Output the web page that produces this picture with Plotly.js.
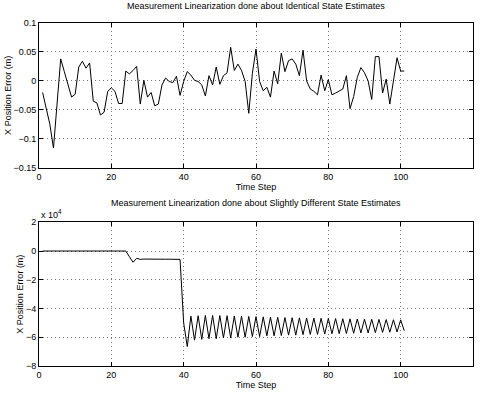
<!DOCTYPE html>
<html>
<head>
<meta charset="utf-8">
<script src="https://cdn.plot.ly/plotly-3.0.1.min.js"></script>
<style>html,body{margin:0;padding:0;background:#fff;}#chart{width:480px;height:398px;}</style>
</head>
<body>
<div id="chart"></div>
<script>
// Time steps
var timeSteps = [];
for (var i = 1; i <= 101; i++) timeSteps.push(i);

// Top panel: X position error (m), identical state estimates
var errIdentical = [
  -0.020, -0.045, -0.075, -0.116, -0.040, 0.038, 0.016, -0.006, -0.028, -0.023,
  0.024, 0.034, 0.022, 0.031, -0.035, -0.038, -0.059, -0.054, -0.018, -0.012,
  -0.018, -0.039, -0.039, 0.017, 0.012, 0.018, 0.025, -0.040, 0.001, -0.028,
  -0.020, -0.043, -0.040, -0.007, 0.005, -0.001, -0.003, 0.008, -0.025, -0.001,
  0.016, 0.010, 0.001, -0.001, -0.007, -0.026, 0.009, -0.007, 0.024, -0.006,
  0.009, 0.014, 0.058, 0.018, 0.029, 0.018, -0.001, -0.056, 0.013, 0.055,
  -0.001, -0.017, -0.011, -0.028, 0.017, -0.005, 0.048, 0.016, 0.035, 0.038,
  0.029, 0.009, 0.053, 0.000, -0.014, -0.018, -0.024, 0.010, -0.017, 0.002,
  -0.024, -0.021, -0.018, -0.014, 0.009, -0.048, -0.027, 0.006, 0.023, 0.014,
  0.000, -0.032, 0.042, 0.042, -0.021, 0.003, -0.040, -0.001, 0.040, 0.017,
  0.017
];

// Bottom panel: X position error (m), slightly different state estimates
var errDifferent = [
  0, 0, 0, 0, 0, 0, 0, 0, 0, 0,
  0, 0, 0, 0, 0, 0, 0, 0, 0, 0,
  0, 0, 0, 0, -4000, -7800, -5100, -5800, -5600, -5700,
  -5600, -5700, -5700, -5700, -5700, -5700, -5800, -5800, -5800, -50000,
  -66500, -45300, -62000, -45000, -61500, -44800, -61000, -44800, -61000, -44900,
  -60500, -45000, -60500, -45200, -60000, -45300, -60000, -45500, -59500, -45600,
  -59500, -45800, -59000, -46000, -59000, -46100, -58800, -46300, -58500, -46400,
  -58500, -46500, -58200, -46600, -58000, -46700, -58000, -46800, -57800, -46900,
  -57600, -47000, -57500, -47100, -57400, -47200, -57200, -47300, -57000, -47400,
  -57000, -47500, -56800, -47600, -56600, -47700, -56500, -47800, -56300, -47900,
  -55500
];

var xTicks = [0, 20, 40, 60, 80, 100, 120];
var yTicksTop = [-0.15, -0.1, -0.05, 0, 0.05, 0.1];
var yTicksTopText = ['\u22120.15', '\u22120.1', '\u22120.05', '0', '0.05', '0.1'];
var yTicksBot = [-80000, -60000, -40000, -20000, 0, 20000];
var yTicksBotText = ['\u22128', '\u22126', '\u22124', '\u22122', '0', '2'];

var titleTop = 'Measurement Linearization done about Identical State Estimates';
var titleBot = 'Measurement Linearization done about Slightly Different State Estimates';
var xLabel = 'Time Step';
var yLabel = 'X Position Error (m)';

var FONT = {family: 'Liberation Sans, Arial, sans-serif', size: 9, color: '#000'};
var GRID = {gridcolor: '#777', griddash: '1px,3px', gridwidth: 1};

function xa(anchor) {
  return Object.assign({
    anchor: anchor, range: [0, 120], tickvals: xTicks, ticks: 'inside', ticklen: 4,
    tickcolor: '#000', showline: true, linecolor: '#000', linewidth: 1, mirror: 'ticks',
    showgrid: true, zeroline: false,
    tickfont: FONT, title: {text: xLabel, font: FONT, standoff: 1}, automargin: false
  }, GRID);
}
function ya(anchor, domain, range, tv, tt) {
  return Object.assign({
    anchor: anchor, domain: domain, range: range, tickvals: tv, ticktext: tt,
    ticks: 'inside', ticklen: 4, tickcolor: '#000', showline: true, linecolor: '#000',
    linewidth: 1, mirror: 'ticks', showgrid: true, zeroline: false, tickfont: FONT,
    title: {text: yLabel, font: FONT, standoff: 0}, automargin: false
  }, GRID);
}

var data = [
  {x: timeSteps, y: errIdentical, xaxis: 'x', yaxis: 'y', type: 'scatter', mode: 'lines',
   line: {color: '#000', width: 1}, hoverinfo: 'none'},
  {x: timeSteps, y: errDifferent, xaxis: 'x2', yaxis: 'y2', type: 'scatter', mode: 'lines',
   line: {color: '#000', width: 1}, hoverinfo: 'none'}
];

var layout = {
  width: 480, height: 398, showlegend: false,
  paper_bgcolor: '#fff', plot_bgcolor: '#fff', font: FONT,
  margin: {l: 39, r: 7, t: 23, b: 32},
  xaxis: xa('y'),
  yaxis: ya('x', [0.578, 1], [-0.15, 0.1], yTicksTop, yTicksTopText),
  xaxis2: xa('y2'),
  yaxis2: ya('x2', [0, 0.419], [-80000, 20000], yTicksBot, yTicksBotText),
  annotations: [
    {text: titleTop, xref: 'x domain', yref: 'paper', x: 0.5, y: (366 - 6) / 343,
     yanchor: 'middle', showarrow: false, font: FONT},
    {text: titleBot, xref: 'x2 domain', yref: 'paper', x: 0.5, y: (366 - 203) / 343,
     yanchor: 'middle', showarrow: false, font: FONT},
    {text: 'x 10<sup>4</sup>', xref: 'x2 domain', yref: 'y2 domain', x: 0, y: 1, xanchor: 'left',
     yanchor: 'bottom', showarrow: false, font: FONT}
  ]
};

Plotly.newPlot('chart', data, layout, {staticPlot: true, displayModeBar: false});
</script>
</body>
</html>
